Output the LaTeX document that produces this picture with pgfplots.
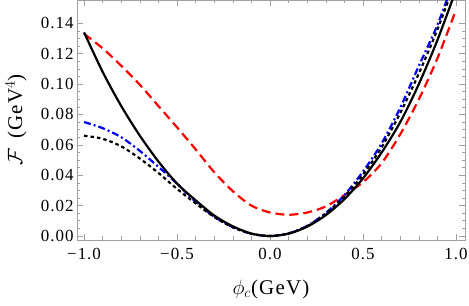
\documentclass[border=0pt]{standalone}
\usepackage{pgfplots}
\pgfplotsset{compat=1.18}
\usepackage{fontspec}
\setmainfont{Liberation Serif}[LetterSpace=6]
\definecolor{framegray}{RGB}{160,160,160}
\definecolor{mred}{RGB}{255,0,0}
\definecolor{mblue}{RGB}{0,0,255}

\begin{document}
\begin{tikzpicture}
\useasboundingbox (-77bp,-66bp) rectangle (392bp,240bp);
\begin{axis}[
  scale only axis,
  width=388bp,
  height=240bp,
  xmin=-1.038, xmax=1.048,
  ymin=-0.0026, ymax=0.1553,
  axis line style={draw=framegray, line width=0.9pt},
  tick style={draw=framegray, line width=0.7pt},
  tick align=inside,
  major tick length=6bp,
  minor tick length=3.5bp,
  xtick={-1,-0.5,0,0.5,1},
  xticklabels={−1.0,−0.5,0.0,0.5,1.0},
  minor xtick={-0.9,-0.8,-0.7,-0.6,-0.4,-0.3,-0.2,-0.1,0.1,0.2,0.3,0.4,0.6,0.7,0.8,0.9},
  ytick={0,0.02,0.04,0.06,0.08,0.10,0.12,0.14},
  yticklabels={0.00,0.02,0.04,0.06,0.08,0.10,0.12,0.14},
  minor y tick num=3,
  ticklabel style={font=\fontsize{17}{19}\selectfont},
  xticklabel style={yshift=-4bp},
  yticklabel style={xshift=1bp},
  xlabel={$\phi_c$(GeV)},
  ylabel={$\mathcal{F}$\, (GeV$^4$)},
  label style={font=\fontsize{21}{23}\selectfont},
  xlabel style={at={(axis description cs:0.5,-0.205)}, anchor=center},
  ylabel style={at={(axis description cs:-0.157,0.5)}, anchor=center},
  clip=true,
  line width=2.2bp,
]
\addplot[color=mred, smooth, dash pattern=on 9bp off 5bp] coordinates {
  (-1.0,0.133) (-0.9,0.1235) (-0.8,0.112) (-0.7,0.0995) (-0.6,0.0855)
  (-0.5,0.0715) (-0.4,0.0570) (-0.3,0.0420) (-0.2,0.0295) (-0.1,0.0200)
  (0.0,0.0155) (0.1,0.0140) (0.2,0.0155) (0.3,0.0195) (0.4,0.0270)
  (0.5,0.0355) (0.6,0.048) (0.7,0.067) (0.8,0.090) (0.9,0.117) (1.0,0.149)
};
\addplot[color=mblue, smooth, dash pattern=on 7bp off 3bp on 2bp off 3bp] coordinates {
  (-1.0,0.075) (-0.9,0.071) (-0.8,0.065) (-0.7,0.056) (-0.6,0.0455)
  (-0.5,0.0345) (-0.4,0.0225) (-0.3,0.0128) (-0.2,0.0058) (-0.1,0.0015)
  (0.0,0.0) (0.1,0.0017) (0.2,0.0068) (0.3,0.0152) (0.4,0.027)
  (0.5,0.0425) (0.6,0.061) (0.7,0.0845) (0.8,0.112) (0.9,0.139) (1.0,0.172)
};
\addplot[color=black, smooth, dash pattern=on 3.5bp off 3bp] coordinates {
  (-1.0,0.066) (-0.9,0.064) (-0.8,0.059) (-0.7,0.051) (-0.6,0.0415)
  (-0.5,0.031) (-0.4,0.0215) (-0.3,0.0125) (-0.2,0.0057) (-0.1,0.0015)
  (0.0,0.0) (0.1,0.0017) (0.2,0.0066) (0.3,0.0148) (0.4,0.026)
  (0.5,0.0405) (0.6,0.0585) (0.7,0.081) (0.8,0.107) (0.9,0.136) (1.0,0.169)
};
\addplot[color=black, smooth, solid] coordinates {
  (-1.0,0.134) (-0.9,0.108) (-0.8,0.0855) (-0.7,0.0660) (-0.6,0.049)
  (-0.5,0.0345) (-0.4,0.0235) (-0.3,0.0135) (-0.2,0.0064) (-0.1,0.0016)
  (0.0,0.0) (0.1,0.0016) (0.2,0.0062) (0.3,0.0138) (0.4,0.0243)
  (0.5,0.038) (0.6,0.055) (0.7,0.075) (0.8,0.100) (0.9,0.129) (1.0,0.162)
};
\end{axis}
\end{tikzpicture}
\end{document}
